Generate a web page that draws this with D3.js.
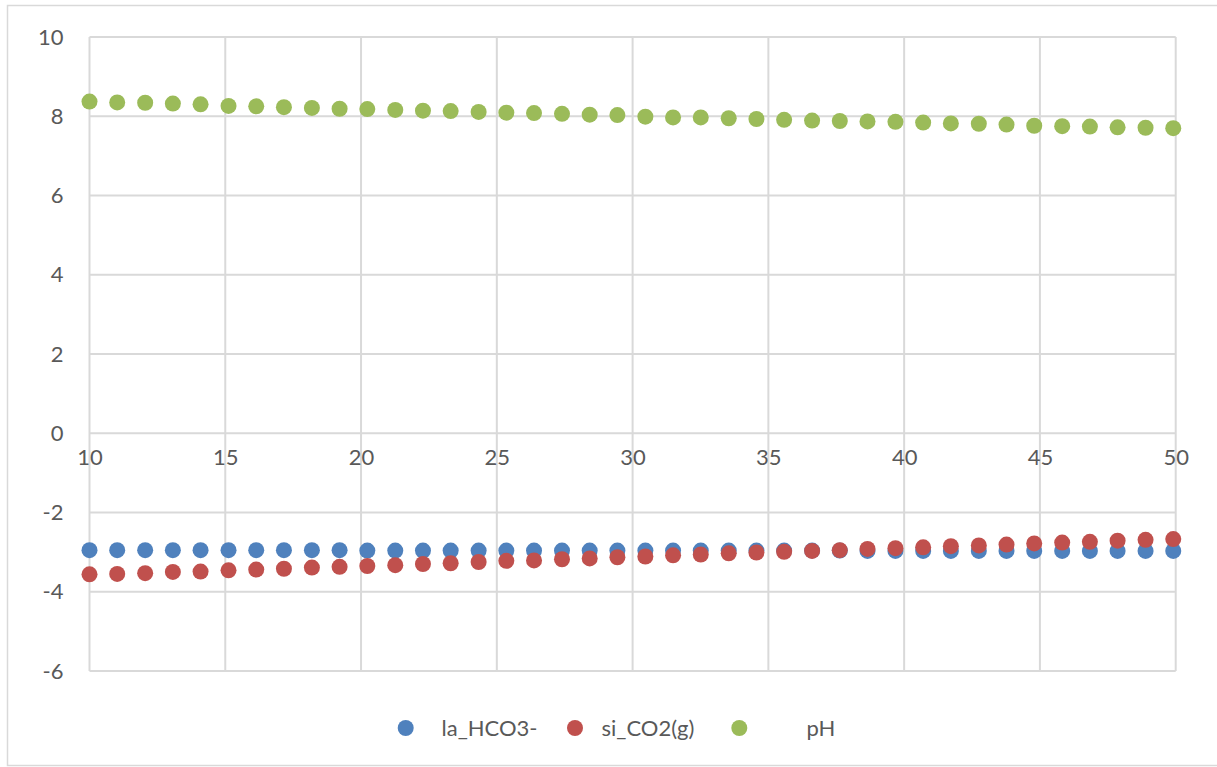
<!DOCTYPE html>
<html>
<head>
<meta charset="utf-8">
<script src="https://cdn.jsdelivr.net/npm/d3@7"></script>
<style>
  body { margin: 0; background: #fff; }
  text { font-family: Lato, "Open Sans", sans-serif; fill: #595959; }
</style>
</head>
<body>
<div id="chart"></div>
<script>
// x values (40 samples, roughly 10..49.9)
var xValues = [10.00, 11.02, 12.05, 13.07, 14.09, 15.12, 16.14, 17.16, 18.19, 19.21,
               20.23, 21.26, 22.28, 23.30, 24.33, 25.35, 26.37, 27.40, 28.42, 29.44,
               30.47, 31.49, 32.51, 33.54, 34.56, 35.58, 36.61, 37.63, 38.65, 39.68,
               40.70, 41.72, 42.75, 43.77, 44.79, 45.82, 46.84, 47.86, 48.89, 49.91];

var laHCO3 = [-2.95, -2.95, -2.95, -2.95, -2.95, -2.95, -2.95, -2.95, -2.95, -2.95,
              -2.96, -2.96, -2.96, -2.96, -2.96, -2.96, -2.96, -2.96, -2.96, -2.96,
              -2.96, -2.96, -2.96, -2.96, -2.96, -2.96, -2.96, -2.96, -2.97, -2.97,
              -2.97, -2.97, -2.97, -2.97, -2.97, -2.97, -2.97, -2.97, -2.97, -2.97];

var siCO2 = [-3.56, -3.55, -3.53, -3.50, -3.49, -3.46, -3.44, -3.42, -3.39, -3.37,
             -3.35, -3.33, -3.30, -3.28, -3.25, -3.22, -3.21, -3.18, -3.16, -3.13,
             -3.11, -3.08, -3.06, -3.03, -3.01, -2.99, -2.97, -2.95, -2.92, -2.90,
             -2.88, -2.85, -2.83, -2.81, -2.78, -2.76, -2.74, -2.71, -2.69, -2.67];

var pH = [8.37, 8.35, 8.34, 8.32, 8.30, 8.26, 8.25, 8.23, 8.21, 8.19,
          8.18, 8.16, 8.14, 8.13, 8.11, 8.09, 8.08, 8.06, 8.04, 8.03,
          7.99, 7.97, 7.97, 7.95, 7.93, 7.91, 7.89, 7.88, 7.87, 7.86,
          7.84, 7.82, 7.81, 7.79, 7.76, 7.75, 7.74, 7.72, 7.71, 7.70];

var seriesNames = ["la_HCO3-", "si_CO2(g)", "pH"];
var seriesColors = ["#4F81BD", "#C0504D", "#9BBB59"];
var xTicks = [10, 15, 20, 25, 30, 35, 40, 45, 50];
var yTicks = [-6, -4, -2, 0, 2, 4, 6, 8, 10];

var W = 1217, H = 767;
var svg = d3.select("#chart").append("svg")
    .attr("width", W).attr("height", H);

// outer chart frame
svg.append("rect")
    .attr("x", 7.5).attr("y", 5.5)
    .attr("width", 1215).attr("height", 760)
    .attr("fill", "#fff").attr("stroke", "#D9D9D9").attr("stroke-width", 1.5);

var x = d3.scaleLinear().domain([10, 50]).range([89.5, 1175.7]);
var y = d3.scaleLinear().domain([-6, 10]).range([671, 37]);

// plain hyphen for negatives, like the original
var fmt = function (d) { return String(d); };

// gridlines
var grid = svg.append("g");
grid.selectAll("line.h").data(yTicks).enter().append("line")
    .attr("x1", x(10)).attr("x2", x(50))
    .attr("y1", function (d) { return y(d); }).attr("y2", function (d) { return y(d); })
    .attr("stroke", "#D9D9D9").attr("stroke-width", 2);
grid.selectAll("line.v").data(xTicks).enter().append("line")
    .attr("y1", y(10)).attr("y2", y(-6))
    .attr("x1", function (d) { return x(d); }).attr("x2", function (d) { return x(d); })
    .attr("stroke", "#D9D9D9").attr("stroke-width", 2);

// y axis labels
var yAxis = d3.axisLeft(y).tickValues(yTicks).tickFormat(fmt).tickSize(0).tickPadding(26);
svg.append("g").attr("transform", "translate(" + x(10) + ",0)").call(yAxis)
    .call(function (g) { g.select(".domain").remove(); })
    .selectAll("text").style("font-size", "22px").attr("fill", "#595959");

// x axis labels, sitting under the zero line
var xAxis = d3.axisBottom(x).tickValues(xTicks).tickFormat(fmt).tickSize(0).tickPadding(32);
svg.append("g").attr("transform", "translate(0," + y(0) + ")").call(xAxis)
    .call(function (g) { g.select(".domain").remove(); })
    .selectAll("text").style("font-size", "22px").attr("fill", "#595959")
    .attr("dy", "0");

// points
var allSeries = [laHCO3, siCO2, pH];
allSeries.forEach(function (vals, s) {
    svg.append("g").selectAll("circle").data(vals).enter().append("circle")
        .attr("cx", function (d, i) { return x(xValues[i]); })
        .attr("cy", function (d) { return y(d); })
        .attr("r", 8)
        .attr("fill", seriesColors[s]);
});

// legend
var legendX = [405.7, 575, 739.3];
var legendTextX = [441.5, 601.5, 806.5];
var legend = svg.append("g");
seriesNames.forEach(function (name, s) {
    legend.append("circle").attr("cx", legendX[s]).attr("cy", 728).attr("r", 8)
        .attr("fill", seriesColors[s]);
    legend.append("text").attr("x", legendTextX[s]).attr("y", 728).attr("dy", "0.35em")
        .style("font-size", "22px").text(name);
});
</script>
</body>
</html>
